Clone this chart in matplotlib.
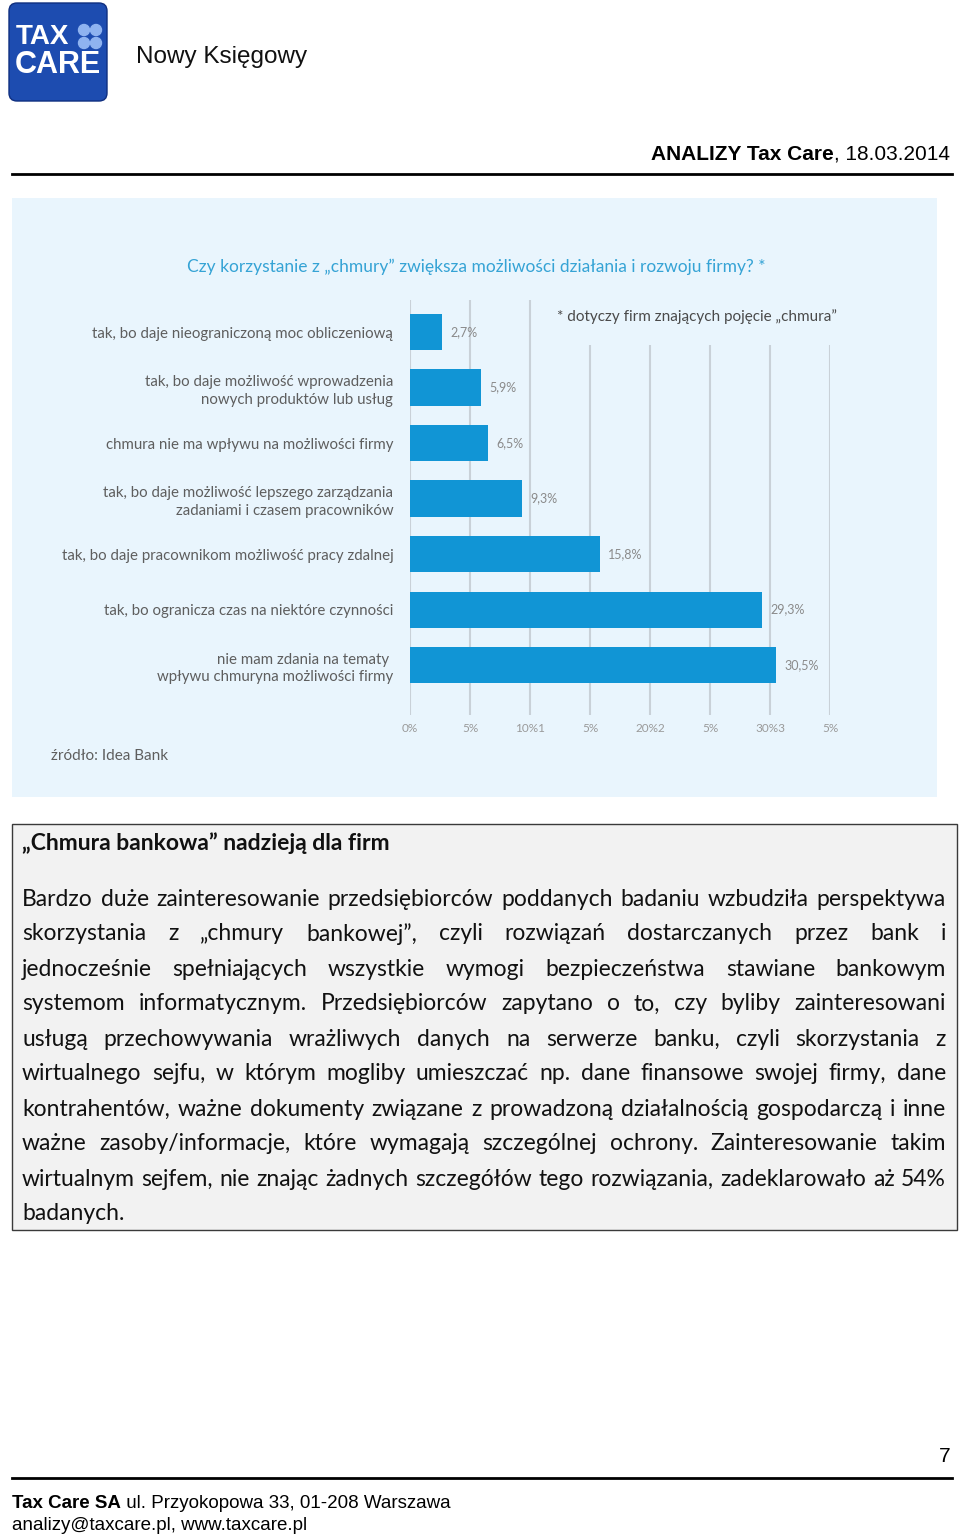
import matplotlib.pyplot as plt
from matplotlib.patches import Rectangle, FancyBboxPatch, Circle

# chart data
labels = ["tak, bo daje nieograniczoną moc obliczeniową",
          "tak, bo daje możliwość wprowadzenia\nnowych produktów lub usług",
          "chmura nie ma wpływu na możliwości firmy",
          "tak, bo daje możliwość lepszego zarządzania\nzadaniami i czasem pracowników",
          "tak, bo daje pracownikom możliwość pracy zdalnej",
          "tak, bo ogranicza czas na niektóre czynności",
          "nie mam zdania na tematy \nwpływu chmuryna możliwości firmy"]
values = [2.7, 5.9, 6.5, 9.3, 15.8, 29.3, 30.5]
value_labels = ["2,7%", "5,9%", "6,5%", "9,3%", "15,8%", "29,3%", "30,5%"]
ticks = [0, 5, 10, 15, 20, 25, 30, 35]
tick_labels = ["0%", "5%", "10%1", "5%", "20%2", "5%", "30%3", "5%"]

chart_title = "Czy korzystanie z „chmury” zwiększa możliwości działania i rozwoju firmy? *"
footnote = "* dotyczy firm znających pojęcie „chmura”"
source = "źródło: Idea Bank"

box_title = "„Chmura bankowa” nadzieją dla firm"
para_lines = [
    "Bardzo duże zainteresowanie przedsiębiorców poddanych badaniu wzbudziła perspektywa",
    "skorzystania z „chmury bankowej”, czyli rozwiązań dostarczanych przez bank i",
    "jednocześnie spełniających wszystkie wymogi bezpieczeństwa stawiane bankowym",
    "systemom informatycznym. Przedsiębiorców zapytano o to, czy byliby zainteresowani",
    "usługą przechowywania wrażliwych danych na serwerze banku, czyli skorzystania z",
    "wirtualnego sejfu, w którym mogliby umieszczać np. dane finansowe swojej firmy, dane",
    "kontrahentów, ważne dokumenty związane z prowadzoną działalnością gospodarczą i inne",
    "ważne zasoby/informacje, które wymagają szczególnej ochrony. Zainteresowanie takim",
    "wirtualnym sejfem, nie znając żadnych szczegółów tego rozwiązania, zadeklarowało aż 54%",
    "badanych.",
]

BLUE = '#1195d5'
TITLE_BLUE = '#35a3d5'
GREY = '#5e5e5e'
BG = '#e9f5fd'

fig = plt.figure(figsize=(9.6, 15.4), dpi=100)
page = fig.add_axes([0, 0, 1, 1])
page.set_xlim(0, 960)
page.set_ylim(1540, 0)
page.axis('off')
renderer = fig.canvas.get_renderer()

# logo
page.add_patch(FancyBboxPatch((9, 3), 98, 98, boxstyle='round,pad=0,rounding_size=8',
                              facecolor='#1d4cb0', edgecolor='#0f2f80', lw=1))
page.text(16, 37, "TAX", color='white', fontsize=20, fontweight='bold',
          family='Liberation Sans', va='center')
page.text(15, 65, "CARE", color='white', fontsize=22, fontweight='bold',
          family='Liberation Sans', va='center')
for cx, cy in [(84, 30), (96, 30), (84, 43), (96, 43)]:
    page.add_patch(Circle((cx, cy), 5.5, color='#8fb3f0'))
page.text(136, 57, "Nowy Księgowy", fontsize=17.5, family='Liberation Sans',
          va='center', color='#111111')

# header
t = page.text(950, 154, ", 18.03.2014", fontsize=15, family='Liberation Sans',
              ha='right', va='center')
w = t.get_window_extent(renderer).width
page.text(950 - w, 154, "ANALIZY Tax Care", fontsize=15, family='Liberation Sans',
          fontweight='bold', ha='right', va='center')
page.plot([12, 952], [174, 174], color='black', lw=2)

# chart background
page.add_patch(Rectangle((12, 198), 925, 599, facecolor=BG, edgecolor='none'))
page.text(476, 267, chart_title, color=TITLE_BLUE, fontsize=12.5, family='Lato',
          ha='center', va='center')
page.text(557, 317, footnote, color='#4a4a4a', fontsize=11, family='Lato',
          ha='left', va='center')
page.text(51, 756, source, color=GREY, fontsize=11, family='Lato', va='center')

# bar chart
ax = fig.add_axes([410 / 960, 1 - 715 / 1540, 420 / 960, 415 / 1540])
ax.patch.set_alpha(0)
pos = list(range(len(values)))
for x in ticks:
    top = -0.577 if x <= 10 else 0.234
    ax.vlines(x, top, 6.9, color='#c9d1d8', lw=1.5, zorder=0)
ax.barh(pos, values, height=0.65, color=BLUE, zorder=2)
for p, v, s in zip(pos, values, value_labels):
    ax.text(v + 0.7, p, s, color='#8a8a8a', fontsize=9, family='Lato',
            va='center', ha='left')
ax.set_yticks(pos)
ax.set_yticklabels(labels, fontsize=10.8, family='Lato', color=GREY,
                   linespacing=1.35)
ax.tick_params(axis='y', length=0, pad=12)
ax.set_xticks(ticks)
ax.set_xticklabels(tick_labels, fontsize=8.5, family='Lato', color='#9a9a9a')
ax.tick_params(axis='x', length=0, pad=6)
ax.set_xlim(0, 35)
ax.set_ylim(6.9, -0.577)
for sp in ax.spines.values():
    sp.set_visible(False)

# text box
page.add_patch(Rectangle((12, 824), 945, 406, facecolor='#f2f2f2',
                         edgecolor='#3a3a3a', lw=1))
page.text(22, 843, box_title, fontsize=16.5, family='Lato', fontweight='bold',
          va='center', color='#111111')

# justified paragraph
left, right = 22, 946
for i, line in enumerate(para_lines):
    y = 899 + i * 35
    words = line.split(' ')
    ts = [page.text(0, y, wd, fontsize=16.5, family='Lato', va='center', color='#111111')
          for wd in words]
    widths = [tt.get_window_extent(renderer).width for tt in ts]
    if i == len(para_lines) - 1 or len(words) == 1:
        gap = 5
    else:
        gap = (right - left - sum(widths)) / (len(words) - 1)
    x = left
    for tt, ww in zip(ts, widths):
        tt.set_x(x)
        x += ww + gap

# footer
page.text(950, 1457, "7", fontsize=15, family='Liberation Sans', ha='right', va='center')
page.plot([12, 952], [1478, 1478], color='black', lw=2)
fam_n = ['Liberation Sans Narrow', 'Liberation Sans']
t = page.text(12, 1503, "Tax Care SA", fontsize=13.5, family=fam_n, fontweight='bold',
              va='center')
w = t.get_window_extent(renderer).width
page.text(12 + w, 1503, " ul. Przyokopowa 33, 01-208 Warszawa", fontsize=13.5,
          family=fam_n, va='center')
page.text(12, 1525, "analizy@taxcare.pl, www.taxcare.pl", fontsize=13.5, family=fam_n,
          va='center')

fig.savefig('out.png', dpi=100)
